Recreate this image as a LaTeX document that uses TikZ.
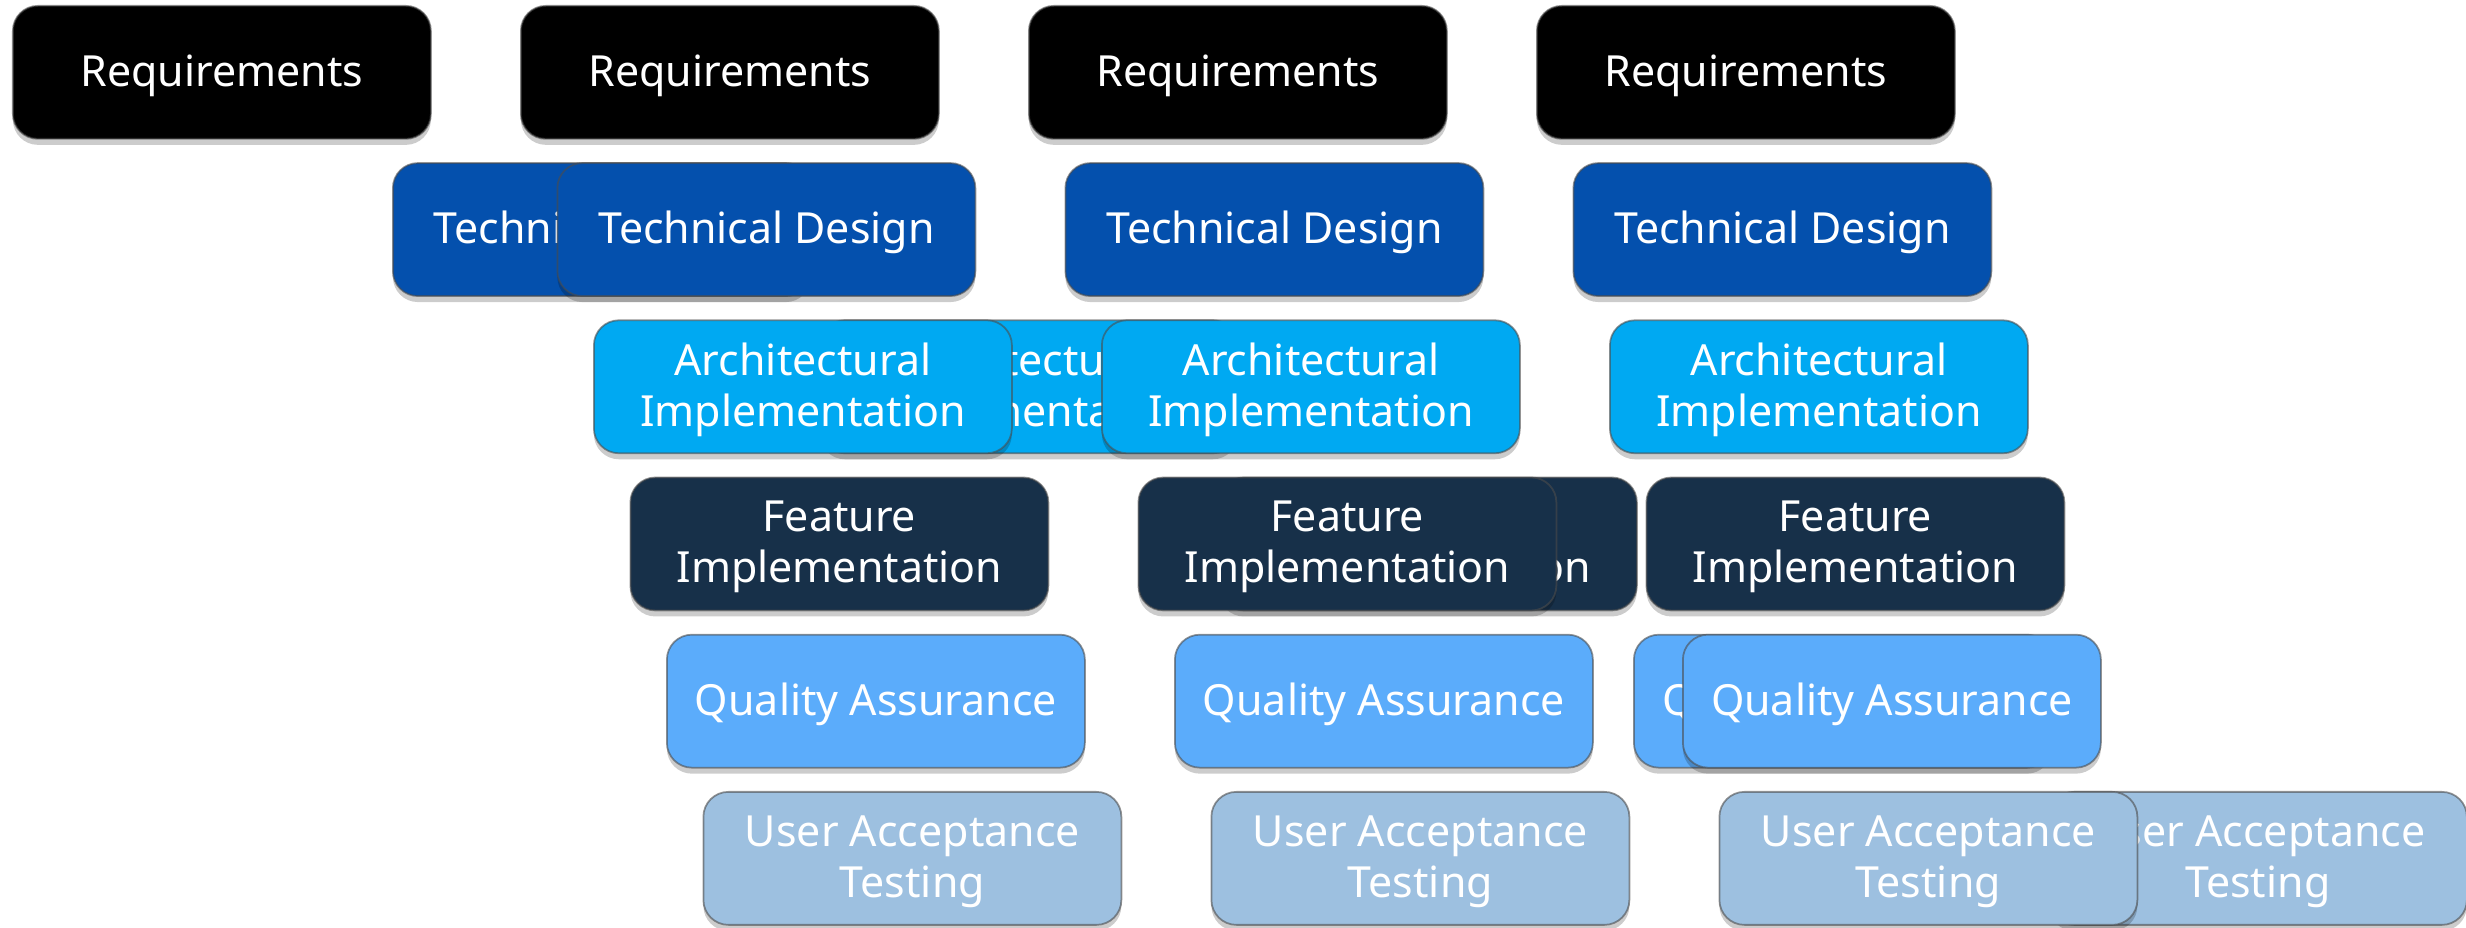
\documentclass[tikz,border=0pt]{standalone}
\usepackage{fontspec}
\setmainfont{Noto Sans}
\usetikzlibrary{shadows}
\definecolor{reqcol}{HTML}{000000}
\definecolor{designcol}{HTML}{0450AD}
\definecolor{archcol}{HTML}{00A9F2}
\definecolor{featcol}{HTML}{173049}
\definecolor{qacol}{HTML}{5BACFB}
\definecolor{uatcol}{HTML}{9DC0E0}
\tikzset{
	phasebox/.style={anchor=north west, minimum width=4.18cm, minimum height=1.33cm, inner sep=0pt,
		rounded corners=0.25cm, draw=black!70, draw opacity=0.6, line width=0.5pt, text=white,
		align=center, font=\fontsize{12.2}{14.5}\selectfont, text depth=1.2pt,
		drop shadow={shadow xshift=0pt, shadow yshift=-0.06cm, opacity=0.2, fill=black}},
	reqbox/.style={phasebox, fill=reqcol},
	designbox/.style={phasebox, fill=designcol},
	archbox/.style={phasebox, fill=archcol},
	featbox/.style={phasebox, fill=featcol},
	qabox/.style={phasebox, fill=qacol},
	uatbox/.style={phasebox, fill=uatcol}
}

\begin{document}
\begin{tikzpicture}
			%%%%% START %%%%%
			
			\useasboundingbox (0, 0) rectangle (24.66, -9.28);
			
			% boxes left behind, partly covered
			\node[designbox] (design0) at (3.92, -1.622) {Technical Design};
			\node[archbox] (arch0) at (8.19, -3.194) {Architectural\\Implementation};
			\node[featbox] (feat0) at (12.18, -4.766) {Feature\\Implementation};
			\node[qabox] (qa0) at (16.33, -6.338) {Quality Assurance};
			\node[uatbox] (uat0) at (20.48, -7.91) {User Acceptance\\Testing};
			
			% first column
			\node[reqbox] (req0) at (0.12, -0.05) {Requirements};
			
			% second column
			\node[reqbox] (req1) at (5.20, -0.05) {Requirements};
			\node[designbox] (design1) at (5.565, -1.622) {Technical Design};
			\node[archbox] (arch1) at (5.93, -3.194) {Architectural\\Implementation};
			\node[featbox] (feat1) at (6.295, -4.766) {Feature\\Implementation};
			\node[qabox] (qa1) at (6.66, -6.338) {Quality Assurance};
			\node[uatbox] (uat1) at (7.025, -7.91) {User Acceptance\\Testing};
			
			% third column
			\node[reqbox] (req2) at (10.28, -0.05) {Requirements};
			\node[designbox] (design2) at (10.645, -1.622) {Technical Design};
			\node[archbox] (arch2) at (11.01, -3.194) {Architectural\\Implementation};
			\node[featbox] (feat2) at (11.375, -4.766) {Feature\\Implementation};
			\node[qabox] (qa2) at (11.74, -6.338) {Quality Assurance};
			\node[uatbox] (uat2) at (12.105, -7.91) {User Acceptance\\Testing};
			
			% fourth column
			\node[reqbox] (req3) at (15.36, -0.05) {Requirements};
			\node[designbox] (design3) at (15.725, -1.622) {Technical Design};
			\node[archbox] (arch3) at (16.09, -3.194) {Architectural\\Implementation};
			\node[featbox] (feat3) at (16.455, -4.766) {Feature\\Implementation};
			\node[qabox] (qa3) at (16.82, -6.338) {Quality Assurance};
			\node[uatbox] (uat3) at (17.185, -7.91) {User Acceptance\\Testing};
			
			%%%%% END %%%%%
\end{tikzpicture}
\end{document}
